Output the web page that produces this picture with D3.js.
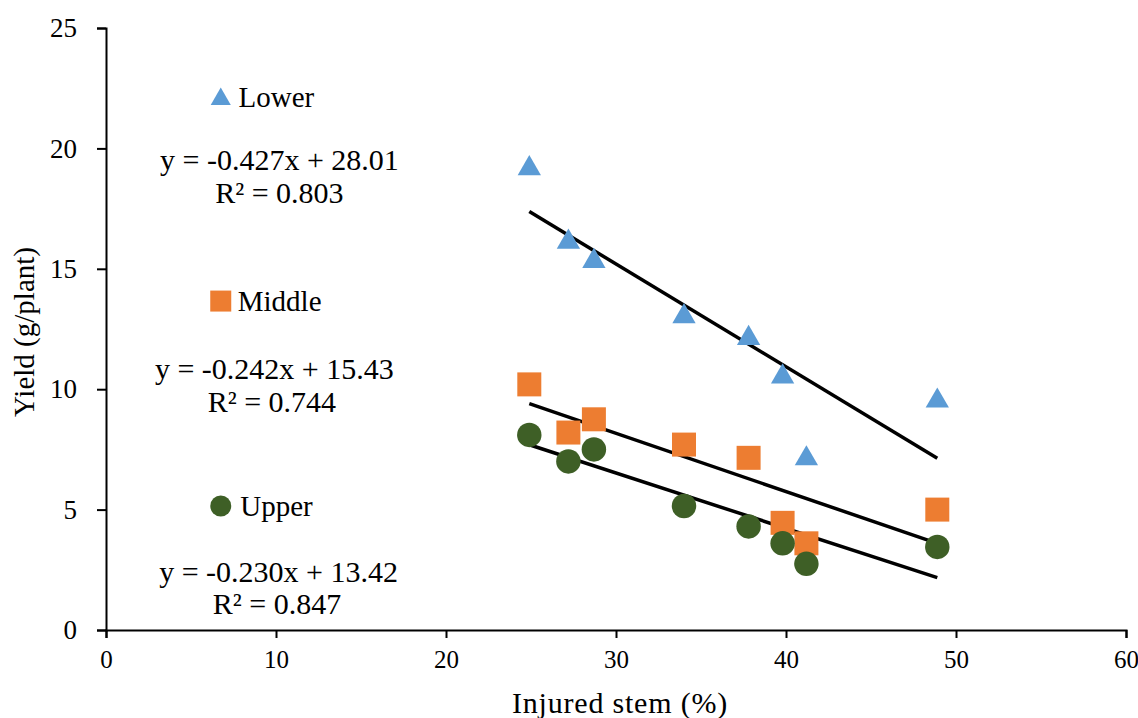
<!DOCTYPE html>
<html>
<head>
<meta charset="utf-8">
<script src="https://cdn.jsdelivr.net/npm/d3@7"></script>
<style>
  body { margin: 0; background: #fff; }
  #chart svg { display: block; }
</style>
</head>
<body>
<div id="chart"></div>
<script>
// Injured stem (%) shared by all three series
const injured = [24.9, 27.2, 28.7, 34.0, 37.8, 39.8, 41.2, 48.9];

// Yield (g/plant) per stem section
const lowerYield  = [19.25, 16.2, 15.4, 13.1, 12.2, 10.6, 7.2, 9.6];
const middleYield = [10.2, 8.2, 8.75, 7.7, 7.15, 4.45, 3.6, 5.0];
const upperYield  = [8.1, 7.0, 7.5, 5.15, 4.3, 3.6, 2.75, 3.45];

const seriesNames = ["Lower", "Middle", "Upper"];
const slopes = [-0.427, -0.242, -0.230];
const intercepts = [28.01, 15.43, 13.42];
const r2 = ["0.803", "0.744", "0.847"];

const xTicks = [0, 10, 20, 30, 40, 50, 60];
const yTicks = [0, 5, 10, 15, 20, 25];

const serif = "'Liberation Serif', 'Times New Roman', serif";

function drawChart() {
    d3.select("#chart").select("svg").remove();

    const width = 1138, height = 718;
    const margin = { top: 28, right: 12, bottom: 88, left: 106 };
    const innerWidth = width - margin.left - margin.right;
    const innerHeight = height - margin.top - margin.bottom;

    const svg = d3.select("#chart")
        .append("svg")
        .attr("width", width)
        .attr("height", height)
        .style("font-family", serif);

    const g = svg.append("g")
        .attr("transform", `translate(${margin.left},${margin.top})`);

    const x = d3.scaleLinear().domain([0, 60]).range([0, innerWidth]);
    const y = d3.scaleLinear().domain([0, 25]).range([innerHeight, 0]);

    const colors = ["#5B9BD5", "#ED7D31", "#3E5F26"];
    const shapes = [d3.symbolTriangle, d3.symbolSquare, d3.symbolCircle];
    const sizes = [235, 576, 470];
    const legendSizes = [175, 441, 346];
    const yields = [lowerYield, middleYield, upperYield];

    // Axes
    const xAxis = g.append("g")
        .attr("transform", `translate(0,${innerHeight})`)
        .call(d3.axisBottom(x).tickValues(xTicks).tickSize(8).tickPadding(12));
    xAxis.attr("font-family", serif);
    xAxis.select(".domain").attr("stroke", "#000").attr("stroke-width", 2);
    xAxis.selectAll(".tick line").attr("stroke", "#000").attr("stroke-width", 2);
    xAxis.selectAll("text")
        .style("font-family", serif)
        .style("font-size", "25px")
        .style("fill", "#000");

    const yAxis = g.append("g")
        .call(d3.axisLeft(y).tickValues(yTicks).tickSize(9).tickPadding(20));
    yAxis.attr("font-family", serif);
    yAxis.select(".domain").attr("stroke", "#000").attr("stroke-width", 2);
    yAxis.selectAll(".tick line").attr("stroke", "#000").attr("stroke-width", 2);
    yAxis.selectAll("text")
        .style("font-family", serif)
        .style("font-size", "27px")
        .style("fill", "#000");

    // Axis titles
    svg.append("text")
        .attr("x", 620)
        .attr("y", 702)
        .attr("text-anchor", "middle")
        .attr("dominant-baseline", "central")
        .style("font-size", "30px")
        .style("letter-spacing", "0.8px")
        .text("Injured stem (%)");

    svg.append("text")
        .attr("transform", `translate(24,332) rotate(-90)`)
        .attr("text-anchor", "middle")
        .attr("dominant-baseline", "central")
        .style("font-size", "29px")
        .text("Yield (g/plant)");

    // Trend lines
    const xMin = d3.min(injured), xMax = d3.max(injured);
    seriesNames.forEach((name, i) => {
        g.append("line")
            .attr("x1", x(xMin))
            .attr("y1", y(slopes[i] * xMin + intercepts[i]))
            .attr("x2", x(xMax))
            .attr("y2", y(slopes[i] * xMax + intercepts[i]))
            .attr("stroke", "#000")
            .attr("stroke-width", 3.5);
    });

    // Points
    seriesNames.forEach((name, i) => {
        const sym = d3.symbol().type(shapes[i]).size(sizes[i]);
        g.selectAll(".pt-" + i)
            .data(injured.map((v, j) => ({ x: v, y: yields[i][j] })))
            .enter()
            .append("path")
            .attr("class", "pt-" + i)
            .attr("d", sym)
            .attr("transform", d => `translate(${x(d.x)},${y(d.y) + (i === 0 ? 2 : 0)})`)
            .attr("fill", colors[i]);
    });

    // Legend entries with equations (positions in data units)
    const legendY = [22.13, 13.66, 5.15];
    const labelX = [7.8, 7.75, 7.9];
    const eqX = [10.2, 9.9, 10.15];
    const eqY = [19.52, 10.88, 2.41];
    const r2X = [10.2, 9.76, 10.06];
    const r2Y = [18.15, 9.47, 1.08];

    seriesNames.forEach((name, i) => {
        const sym = d3.symbol().type(shapes[i]).size(legendSizes[i]);
        g.append("path")
            .attr("d", sym)
            .attr("transform", `translate(${x(6.75)},${y(legendY[i]) + (i === 0 ? 2 : 0)})`)
            .attr("fill", colors[i]);
        g.append("text")
            .attr("x", x(labelX[i]))
            .attr("y", y(legendY[i]))
            .attr("dominant-baseline", "central")
            .style("font-size", "29px")
            .text(name);
        g.append("text")
            .attr("x", x(eqX[i]))
            .attr("y", y(eqY[i]))
            .attr("text-anchor", "middle")
            .attr("dominant-baseline", "central")
            .style("font-size", "30px")
            .text(`y = ${slopes[i].toFixed(3)}x + ${intercepts[i].toFixed(2)}`);
        g.append("text")
            .attr("x", x(r2X[i]))
            .attr("y", y(r2Y[i]))
            .attr("text-anchor", "middle")
            .attr("dominant-baseline", "central")
            .style("font-size", "30px")
            .text(`R² = ${r2[i]}`);
    });
}

drawChart();
</script>
</body>
</html>
